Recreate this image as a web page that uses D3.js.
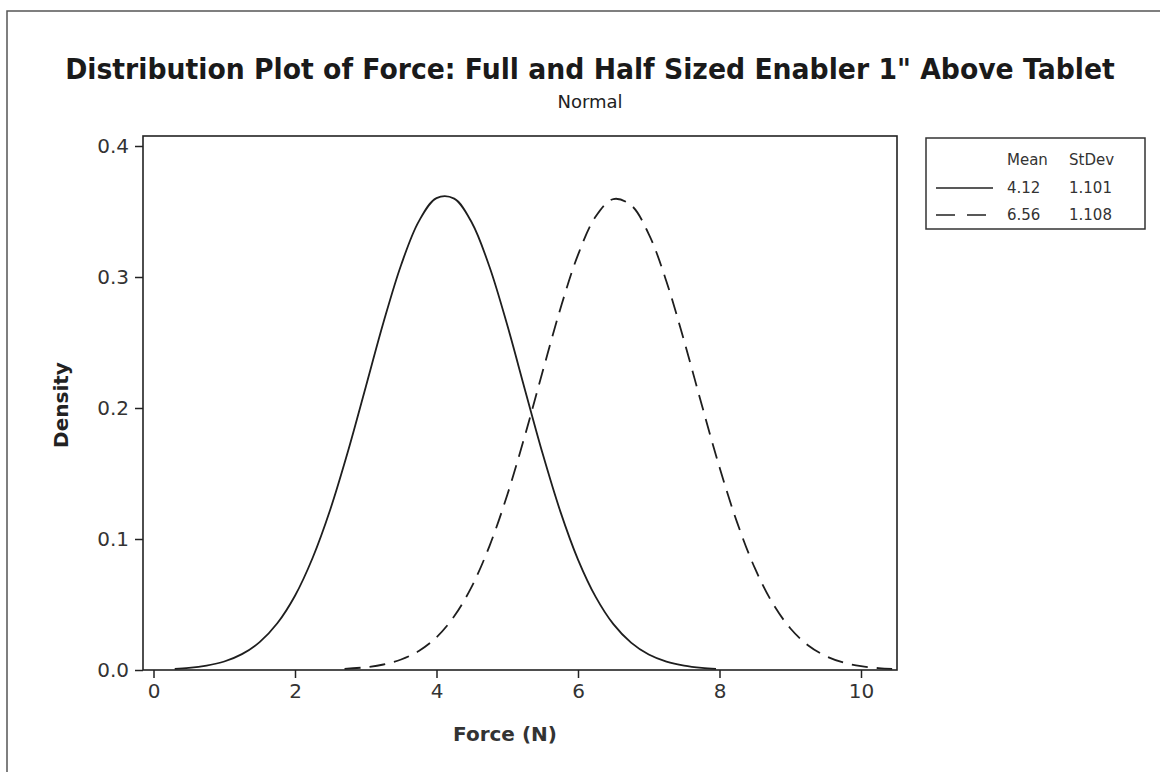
<!DOCTYPE html>
<html>
<head>
<meta charset="utf-8">
<script src="https://cdn.jsdelivr.net/npm/d3@7.9.0/dist/d3.min.js"></script>
<style>
  body { margin: 0; background: #fff; }
  svg { display: block; font-family: "DejaVu Sans", Verdana, sans-serif; }
</style>
</head>
<body>
<svg width="1160" height="772"></svg>
<script>
// density values
const fullX = [0.3, 0.5, 0.75, 1.0, 1.25, 1.5, 1.75, 2.0, 2.25, 2.5, 2.75, 3.0, 3.25, 3.5, 3.75, 4.0,
  4.25, 4.5, 4.75, 5.0, 5.25, 5.5, 5.75, 6.0, 6.25, 6.5, 6.75, 7.0, 7.25, 7.5, 7.75, 7.95];
const fullDensity = [0.0009, 0.0016, 0.0034, 0.0065, 0.0121, 0.0213, 0.0357, 0.0567, 0.0857, 0.1227,
  0.1671, 0.2160, 0.2652, 0.3092, 0.3425, 0.3602, 0.3598, 0.3414, 0.3076, 0.2633, 0.2140, 0.1652,
  0.1211, 0.0843, 0.0558, 0.0350, 0.0209, 0.0118, 0.0064, 0.0033, 0.0016, 0.0009];

const halfX = [2.7, 3.0, 3.25, 3.5, 3.75, 4.0, 4.25, 4.5, 4.75, 5.0, 5.25, 5.5, 5.75, 6.0, 6.25, 6.5,
  6.75, 7.0, 7.25, 7.5, 7.75, 8.0, 8.25, 8.5, 8.75, 9.0, 9.25, 9.5, 9.75, 10.0, 10.25, 10.44];
const halfDensity = [0.0008, 0.0021, 0.0042, 0.0080, 0.0145, 0.0250, 0.0410, 0.0639, 0.0948, 0.1336,
  0.1790, 0.2278, 0.2756, 0.3169, 0.3462, 0.3595, 0.3548, 0.3328, 0.2966, 0.2512, 0.2023, 0.1547,
  0.1125, 0.0777, 0.0511, 0.0319, 0.0189, 0.0107, 0.0057, 0.0029, 0.0014, 0.0008];

const legendHead = ["Mean", "StDev"];
const means = ["4.12", "6.56"];
const stdevs = ["1.101", "1.108"];

const xTicks = [0, 2, 4, 6, 8, 10];
const yTicks = [0.0, 0.1, 0.2, 0.3, 0.4];

const svg = d3.select("svg");

// outer frame (only top and left edges fall inside the picture)
svg.append("rect")
  .attr("x", 7).attr("y", 11)
  .attr("width", 1170).attr("height", 780)
  .attr("fill", "none").attr("stroke", "#555").attr("stroke-width", 1.5);

const plotL = 143, plotR = 897, plotT = 136, plotB = 670;

const x = d3.scaleLinear().domain([0, 10]).range([153.5, 861]);
const y = d3.scaleLinear().domain([0, 0.4]).range([plotB, 146]);

// title: narrow bold face, so shrink the font to fit the width and stretch it back up
const title = svg.append("text")
  .attr("text-anchor", "middle")
  .attr("font-size", 29).attr("font-weight", "bold").attr("fill", "#1a1a1a")
  .text('Distribution Plot of Force: Full and Half Sized Enabler 1" Above Tablet');
const k = Math.min(1, 1050 / title.node().getComputedTextLength());
title.attr("font-size", 29 * k)
  .attr("transform", `translate(590,79) scale(1,${1 / k})`);

svg.append("text")
  .attr("x", 590).attr("y", 108)
  .attr("text-anchor", "middle")
  .attr("font-size", 18).attr("fill", "#222")
  .text("Normal");

// axes
const xAxis = svg.append("g")
  .attr("transform", `translate(0,${plotB})`)
  .call(d3.axisBottom(x).tickValues(xTicks).tickFormat(d3.format("d")).tickSize(8).tickPadding(6));
const yAxis = svg.append("g")
  .attr("transform", `translate(${plotL},0)`)
  .call(d3.axisLeft(y).tickValues(yTicks).tickFormat(d3.format(".1f")).tickSize(8).tickPadding(6));

[xAxis, yAxis].forEach(g => {
  g.select(".domain").remove();
  g.selectAll(".tick line").attr("stroke", "#222").attr("stroke-width", 1.5);
  g.selectAll(".tick text").attr("font-size", 20).attr("fill", "#333")
    .attr("font-family", "DejaVu Sans, Verdana, sans-serif");
});

svg.append("rect")
  .attr("x", plotL).attr("y", plotT)
  .attr("width", plotR - plotL).attr("height", plotB - plotT)
  .attr("fill", "none").attr("stroke", "#222").attr("stroke-width", 1.6);

svg.append("text")
  .attr("x", 505).attr("y", 741)
  .attr("text-anchor", "middle")
  .attr("font-size", 20).attr("font-weight", "bold").attr("fill", "#333")
  .text("Force (N)");

svg.append("text")
  .attr("transform", "translate(68,405) rotate(-90)")
  .attr("text-anchor", "middle")
  .attr("font-size", 20).attr("font-weight", "bold").attr("fill", "#222")
  .text("Density");

// curves
const line = d3.line()
  .x(d => x(d[0]))
  .y(d => y(d[1]))
  .curve(d3.curveCatmullRom);

svg.append("path")
  .datum(d3.zip(fullX, fullDensity))
  .attr("d", line)
  .attr("fill", "none").attr("stroke", "#1e1e1e").attr("stroke-width", 1.8);

svg.append("path")
  .datum(d3.zip(halfX, halfDensity))
  .attr("d", line)
  .attr("fill", "none").attr("stroke", "#1e1e1e").attr("stroke-width", 1.8)
  .attr("stroke-dasharray", "16,9");

// legend
const lg = svg.append("g");
lg.append("rect")
  .attr("x", 926).attr("y", 138).attr("width", 219).attr("height", 91)
  .attr("fill", "none").attr("stroke", "#333").attr("stroke-width", 1.5);

const colX = [1007, 1069];
legendHead.forEach((t, i) => {
  lg.append("text").attr("x", colX[i]).attr("y", 165)
    .attr("font-size", 15).attr("fill", "#333").text(t);
});
means.forEach((m, i) => {
  const by = 193 + i * 27;
  lg.append("line")
    .attr("x1", 936).attr("x2", 993)
    .attr("y1", by - 5).attr("y2", by - 5)
    .attr("stroke", "#222").attr("stroke-width", 1.5)
    .attr("stroke-dasharray", i === 0 ? null : "19,12");
  lg.append("text").attr("x", colX[0]).attr("y", by)
    .attr("font-size", 15).attr("fill", "#333").text(m);
  lg.append("text").attr("x", colX[1]).attr("y", by)
    .attr("font-size", 15).attr("fill", "#333").text(stdevs[i]);
});
</script>
</body>
</html>
